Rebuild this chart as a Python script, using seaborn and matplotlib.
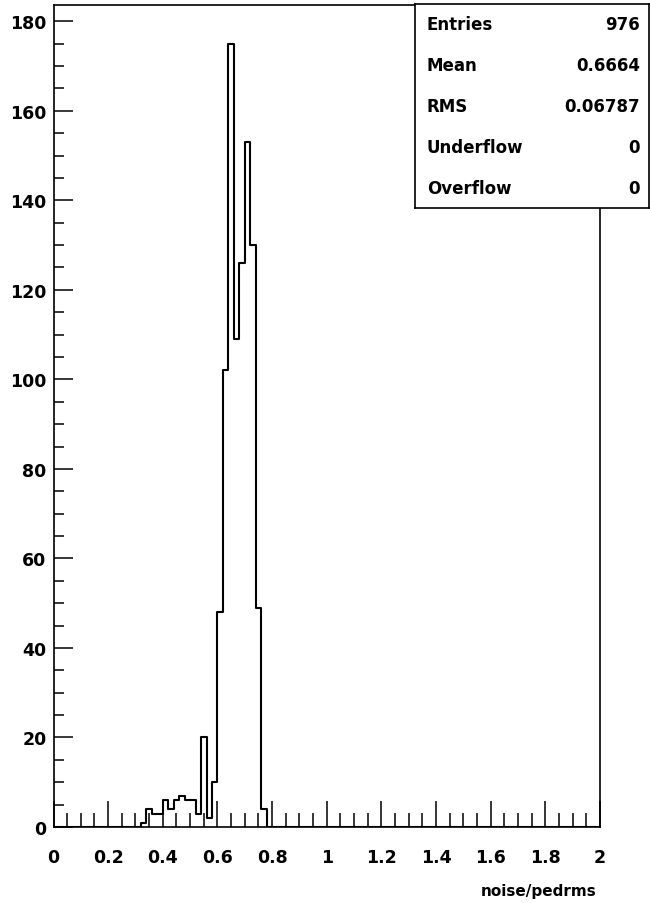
import numpy as np
import pandas as pd
import matplotlib
matplotlib.use("Agg")
import matplotlib.pyplot as plt
from matplotlib.ticker import MultipleLocator
import seaborn as sns

# Histogram of noise/pedrms: 100 bins of width 0.02 over [0, 2]
x_min, x_max, bin_width = 0.0, 2.0, 0.02
first_filled_bin = 0.32
counts = [1, 4, 3, 3, 6, 4, 6, 7, 6, 6, 3, 20, 2, 10,
          48, 102, 175, 109, 126, 153, 130, 49, 4]

stat_names = ["Entries", "Mean", "RMS", "Underflow", "Overflow"]
stat_values = ["976", "0.6664", "0.06787", "0", "0"]

x_ticks = [0, 0.2, 0.4, 0.6, 0.8, 1, 1.2, 1.4, 1.6, 1.8, 2]
x_tick_labels = ["0", "0.2", "0.4", "0.6", "0.8", "1", "1.2", "1.4", "1.6", "1.8", "2"]
y_ticks = [0, 20, 40, 60, 80, 100, 120, 140, 160, 180]
x_title = "noise/pedrms"

sns.set_style("ticks")
plt.rcParams["font.family"] = ["DejaVu Sans"]
plt.rcParams["font.weight"] = "bold"
plt.rcParams["text.color"] = "black"
plt.rcParams["xtick.color"] = "black"
plt.rcParams["ytick.color"] = "black"
plt.rcParams["xtick.labelcolor"] = "black"
plt.rcParams["ytick.labelcolor"] = "black"

centers = first_filled_bin + bin_width * (np.arange(len(counts)) + 0.5)
df = pd.DataFrame({"value": centers, "count": counts})

W, H = 650, 904
fig = plt.figure(figsize=(W / 100, H / 100), dpi=100)
ax = fig.add_axes([53.5 / W, 1 - 828 / H, (600 - 53.5) / W, (828 - 5.5) / H])

sns.histplot(data=df, x="value", weights="count", binwidth=bin_width,
             binrange=(x_min, x_max), element="step", fill=False,
             color="black", linewidth=1.5, ax=ax)

ymax = 1.05 * max(counts)
ax.set_xlim(x_min, x_max)
ax.set_ylim(0, ymax)

ax.set_xticks(x_ticks)
ax.set_xticklabels(x_tick_labels)
ax.set_yticks(y_ticks)
ax.xaxis.set_minor_locator(MultipleLocator(0.05))
ax.yaxis.set_minor_locator(MultipleLocator(5))

ax.tick_params(axis="x", which="major", direction="in", length=18.5, width=1.1,
               pad=15, labelsize=12.5)
ax.tick_params(axis="x", which="minor", direction="in", length=10, width=1.1)
ax.tick_params(axis="y", which="major", direction="in", length=13.5, width=1.1,
               pad=5, labelsize=12.5)
ax.tick_params(axis="y", which="minor", direction="in", length=7.5, width=1.1)
for lab in ax.get_xticklabels() + ax.get_yticklabels():
    lab.set_fontweight("bold")
    lab.set_color("black")

for side in ["left", "right", "top", "bottom"]:
    ax.spines[side].set_visible(True)
    ax.spines[side].set_color("black")
    ax.spines[side].set_linewidth(1.2)

ax.set_ylabel("")
ax.set_xlabel("")
fig.text(597 / W, 1 - 892 / H, x_title, ha="right", va="center",
         fontsize=11, fontweight="bold", color="black")

# Statistics box in the upper right corner
box = fig.add_axes([415 / W, 1 - 209 / H, (649 - 415) / W, (209 - 5) / H])
box.set_xticks([])
box.set_yticks([])
box.set_facecolor("white")
for side in box.spines.values():
    side.set_color("black")
    side.set_linewidth(1.2)
box.set_xlim(0, 1)
box.set_ylim(0, 1)
n = len(stat_names)
for i, (name, val) in enumerate(zip(stat_names, stat_values)):
    yc = 1 - (i + 0.5) / n
    box.text(12 / 234, yc, name, ha="left", va="center", fontsize=12,
             fontweight="bold", color="black")
    box.text(225 / 234, yc, val, ha="right", va="center", fontsize=12,
             fontweight="bold", color="black")

fig.savefig("out.png", dpi=100)
